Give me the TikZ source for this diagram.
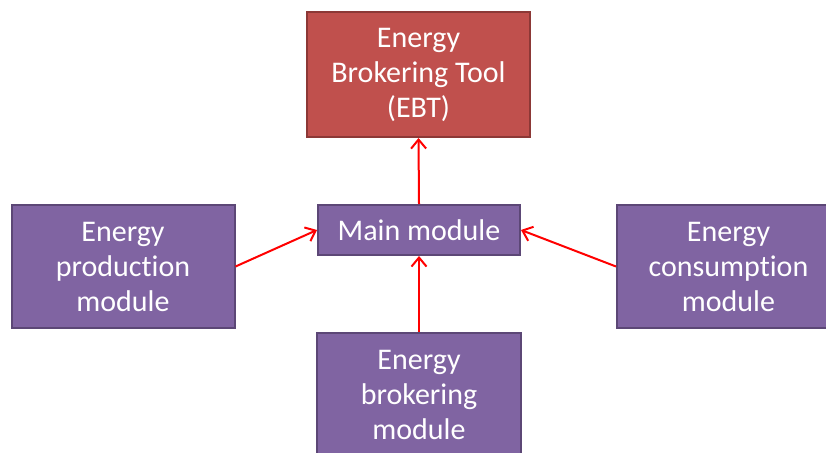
\documentclass[tikz,border=0pt]{standalone}
\usepackage{fontspec}
\setmainfont{Carlito}[Ligatures=NoCommon]
\usetikzlibrary{arrows.meta}
\definecolor{modfill}{HTML}{8064A2}
\definecolor{moddraw}{HTML}{5C4776}
\definecolor{ebtfill}{HTML}{C0504D}
\definecolor{ebtdraw}{HTML}{8C3836}
\tikzset{
  module/.style={draw=moddraw, fill=modfill, line width=2pt, text=white,
    align=center, inner sep=0pt, font=\fontsize{30}{35}\selectfont},
  tool/.style={module, draw=ebtdraw, fill=ebtfill},
  link/.style={draw=red, line width=2pt, -{Straight Barb[length=9pt,width=15pt,line width=2pt]}}
}
\begin{document}
\begin{tikzpicture}[x=1pt,y={(0,-1pt)}]
\useasboundingbox (0,0) rectangle (826,452);
\node[tool, minimum width=223, minimum height=125] (ebt) at (418.5,74.5) {Energy\\Brokering Tool\\(EBT)};
\node[module, minimum width=202, minimum height=50] (main) at (419,230) {Main module};
\node[module, minimum width=223, minimum height=123] (prod) at (123,266.5) {Energy\\production\\module};
\node[module, minimum width=223, minimum height=123] (cons) at (728.5,266.5) {Energy\\consumption\\module};
\node[module, minimum width=204, minimum height=123] (brok) at (419,394.5) {Energy\\brokering\\module};
\path[link] (main.north) -- (ebt.south);
\path[link] (prod.east) -- (main.west);
\path[link] (cons.west) -- (main.east);
\path[link] (brok.north) -- (main.south);
\end{tikzpicture}
\end{document}
